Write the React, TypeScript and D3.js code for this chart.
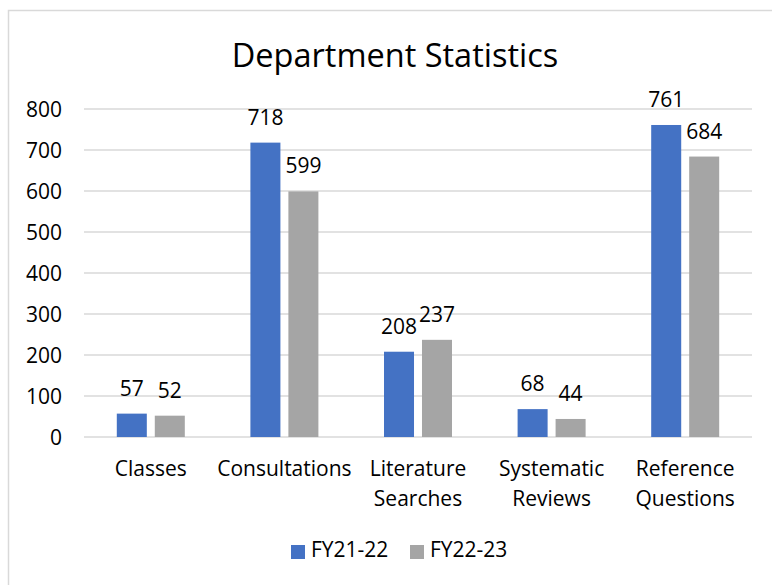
import React, { useEffect, useRef } from "react";
import * as d3 from "d3";

const WIDTH = 772;
const HEIGHT = 585;
const FONT = "'Open Sans', sans-serif";

const categories = [
  ["Classes"],
  ["Consultations"],
  ["Literature", "Searches"],
  ["Systematic", "Reviews"],
  ["Reference", "Questions"],
];
const seriesNames = ["FY21-22", "FY22-23"];
const fy2122 = [57, 718, 208, 68, 761];
const fy2223 = [52, 599, 237, 44, 684];
const yTicks = [0, 100, 200, 300, 400, 500, 600, 700, 800];
const COLORS = ["#4472C4", "#A5A5A5"];

export default function App() {
  const ref = useRef<SVGSVGElement>(null);

  useEffect(() => {
    if (!ref.current) return;
    const svg = d3.select(ref.current);
    svg.selectAll("*").remove();

    const left = 84;
    const right = 752;
    const top = 109;
    const bottom = 437;

    const keys = categories.map((c) => c.join(" "));
    const x = d3
      .scaleBand()
      .domain(keys)
      .range([left, right])
      .paddingInner(0.491)
      .paddingOuter(0.2455);
    const xs = d3
      .scaleBand()
      .domain(seriesNames)
      .range([0, x.bandwidth()])
      .paddingInner(0.21);
    const y = d3.scaleLinear().domain([0, 800]).range([bottom, top]);

    // frame
    svg
      .append("rect")
      .attr("x", 8.5)
      .attr("y", 10.5)
      .attr("width", WIDTH)
      .attr("height", HEIGHT)
      .attr("fill", "#fff")
      .attr("stroke", "#d9d9d9")
      .attr("stroke-width", 1.5);

    svg
      .append("text")
      .attr("x", 395)
      .attr("y", 67)
      .attr("text-anchor", "middle")
      .attr("font-family", FONT)
      .attr("font-size", 32.5)
      .attr("fill", "#000")
      .text("Department Statistics");

    // gridlines + tick labels
    const grid = svg.append("g");
    grid
      .selectAll("line")
      .data(yTicks)
      .enter()
      .append("line")
      .attr("x1", left)
      .attr("x2", right)
      .attr("y1", (d) => y(d))
      .attr("y2", (d) => y(d))
      .attr("stroke", "#d9d9d9")
      .attr("stroke-width", 1.5);
    grid
      .selectAll("text")
      .data(yTicks)
      .enter()
      .append("text")
      .attr("x", 62)
      .attr("y", (d) => y(d) + 8)
      .attr("text-anchor", "end")
      .attr("font-family", FONT)
      .attr("font-size", 21)
      .attr("fill", "#000")
      .text((d) => d);

    const series = [fy2122, fy2223];
    series.forEach((values, si) => {
      const g = svg.append("g");
      g.selectAll("rect")
        .data(values)
        .enter()
        .append("rect")
        .attr("x", (_, i) => (x(keys[i]) ?? 0) + (xs(seriesNames[si]) ?? 0))
        .attr("y", (d) => y(d))
        .attr("width", xs.bandwidth())
        .attr("height", (d) => bottom - y(d))
        .attr("fill", COLORS[si]);
      g.selectAll("text")
        .data(values)
        .enter()
        .append("text")
        .attr(
          "x",
          (_, i) =>
            (x(keys[i]) ?? 0) + (xs(seriesNames[si]) ?? 0) + xs.bandwidth() / 2
        )
        .attr("y", (d) => y(d) - 18)
        .attr("text-anchor", "middle")
        .attr("font-family", FONT)
        .attr("font-size", 21)
        .attr("fill", "#000")
        .text((d) => d);
    });

    // category labels
    const cat = svg.append("g");
    categories.forEach((lines, i) => {
      const t = cat
        .append("text")
        .attr("x", (x(keys[i]) ?? 0) + x.bandwidth() / 2)
        .attr("y", 476)
        .attr("text-anchor", "middle")
        .attr("font-family", FONT)
        .attr("font-size", 21)
        .attr("fill", "#000");
      lines.forEach((line, li) => {
        t.append("tspan")
          .attr("x", (x(keys[i]) ?? 0) + x.bandwidth() / 2)
          .attr("dy", li === 0 ? 0 : 30)
          .text(line);
      });
    });

    // legend
    const legendX = [291, 410];
    const legend = svg
      .selectAll(".legend")
      .data(seriesNames)
      .enter()
      .append("g")
      .attr("class", "legend")
      .attr("transform", (_, i) => `translate(${legendX[i]} 545)`);
    legend
      .append("rect")
      .attr("width", 14)
      .attr("height", 14)
      .attr("fill", (_, i) => COLORS[i]);
    legend
      .append("text")
      .attr("x", 20)
      .attr("y", 12)
      .attr("font-family", FONT)
      .attr("font-size", 21)
      .attr("fill", "#000")
      .text((d) => d);
  }, []);

  return (
    <svg
      ref={ref}
      width={WIDTH}
      height={HEIGHT}
      style={{ position: "absolute", left: 0, top: 0 }}
    />
  );
}
